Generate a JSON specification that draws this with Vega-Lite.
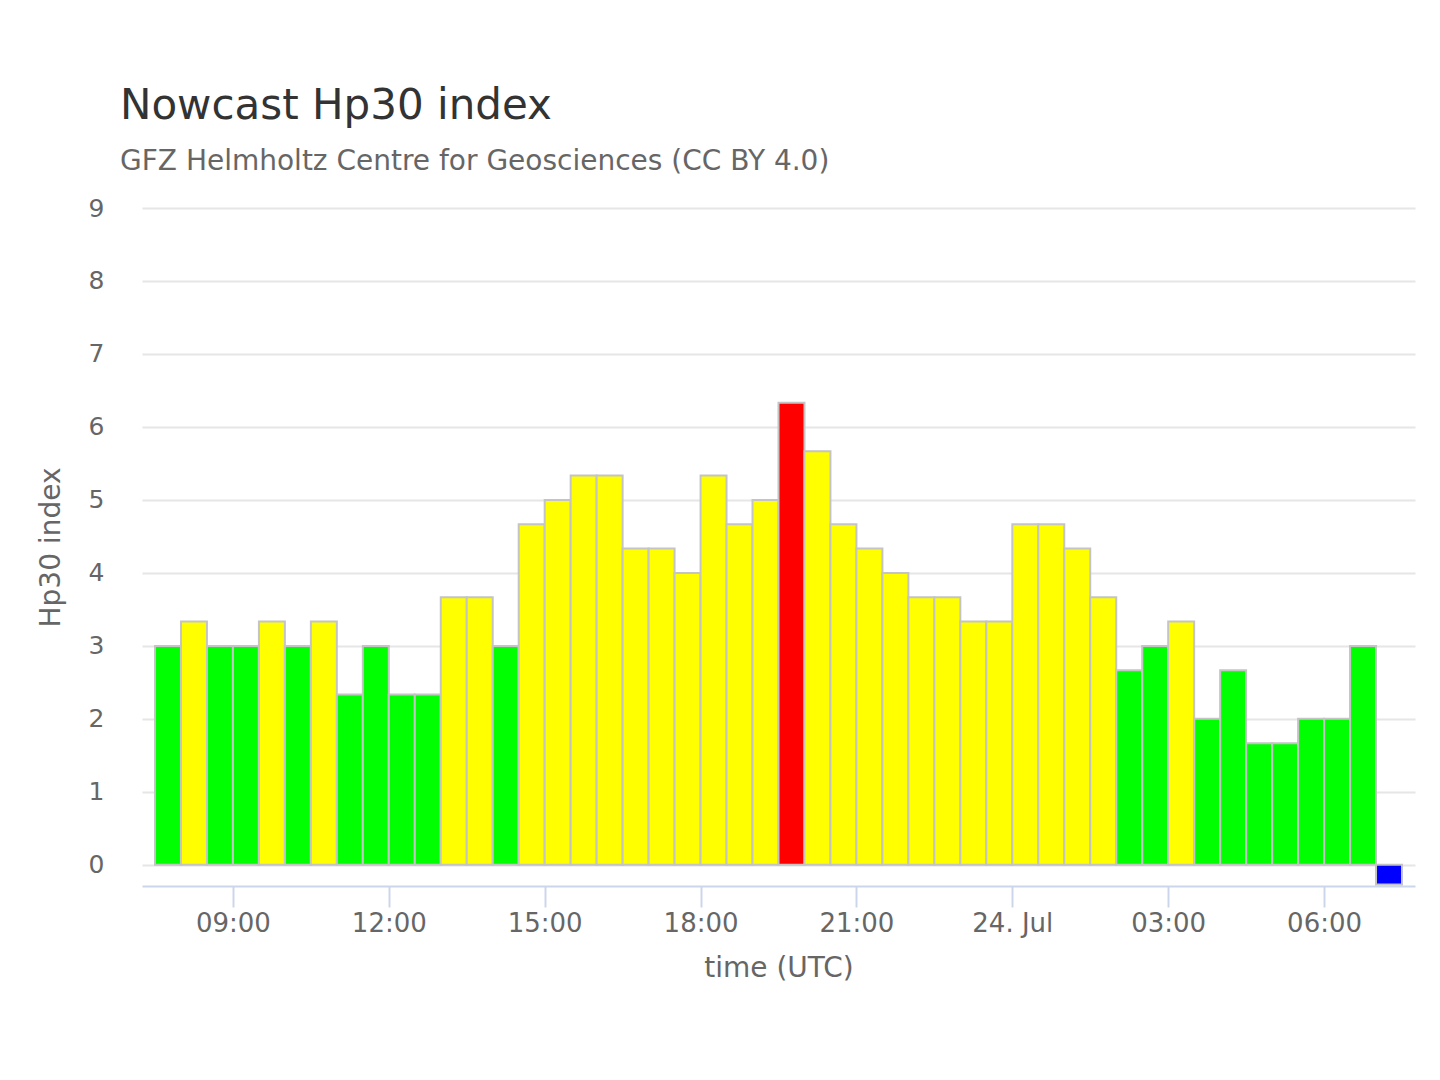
{
  "$schema": "https://vega.github.io/schema/vega-lite/v6.json",
  "autosize": "none",
  "width": 1273,
  "height": 678,
  "padding": {"left": 142, "top": 208, "right": 25, "bottom": 194},
  "background": "white",
  "title": {
    "text": "Nowcast Hp30 index",
    "subtitle": "GFZ Helmholtz Centre for Geosciences (CC BY 4.0)",
    "anchor": "start",
    "frame": "group",
    "dx": -22,
    "font": "DejaVu Sans",
    "fontSize": 42,
    "fontWeight": "normal",
    "color": "#333333",
    "subtitleFont": "DejaVu Sans",
    "subtitleFontSize": 28,
    "subtitleColor": "#666666",
    "subtitlePadding": 20,
    "offset": 19
  },
  "data": {
    "values": [
      {"start": "2023-07-23T07:30:00Z", "end": "2023-07-23T08:00:00Z", "hp": 3.0},
      {"start": "2023-07-23T08:00:00Z", "end": "2023-07-23T08:30:00Z", "hp": 3.333},
      {"start": "2023-07-23T08:30:00Z", "end": "2023-07-23T09:00:00Z", "hp": 3.0},
      {"start": "2023-07-23T09:00:00Z", "end": "2023-07-23T09:30:00Z", "hp": 3.0},
      {"start": "2023-07-23T09:30:00Z", "end": "2023-07-23T10:00:00Z", "hp": 3.333},
      {"start": "2023-07-23T10:00:00Z", "end": "2023-07-23T10:30:00Z", "hp": 3.0},
      {"start": "2023-07-23T10:30:00Z", "end": "2023-07-23T11:00:00Z", "hp": 3.333},
      {"start": "2023-07-23T11:00:00Z", "end": "2023-07-23T11:30:00Z", "hp": 2.333},
      {"start": "2023-07-23T11:30:00Z", "end": "2023-07-23T12:00:00Z", "hp": 3.0},
      {"start": "2023-07-23T12:00:00Z", "end": "2023-07-23T12:30:00Z", "hp": 2.333},
      {"start": "2023-07-23T12:30:00Z", "end": "2023-07-23T13:00:00Z", "hp": 2.333},
      {"start": "2023-07-23T13:00:00Z", "end": "2023-07-23T13:30:00Z", "hp": 3.667},
      {"start": "2023-07-23T13:30:00Z", "end": "2023-07-23T14:00:00Z", "hp": 3.667},
      {"start": "2023-07-23T14:00:00Z", "end": "2023-07-23T14:30:00Z", "hp": 3.0},
      {"start": "2023-07-23T14:30:00Z", "end": "2023-07-23T15:00:00Z", "hp": 4.667},
      {"start": "2023-07-23T15:00:00Z", "end": "2023-07-23T15:30:00Z", "hp": 5.0},
      {"start": "2023-07-23T15:30:00Z", "end": "2023-07-23T16:00:00Z", "hp": 5.333},
      {"start": "2023-07-23T16:00:00Z", "end": "2023-07-23T16:30:00Z", "hp": 5.333},
      {"start": "2023-07-23T16:30:00Z", "end": "2023-07-23T17:00:00Z", "hp": 4.333},
      {"start": "2023-07-23T17:00:00Z", "end": "2023-07-23T17:30:00Z", "hp": 4.333},
      {"start": "2023-07-23T17:30:00Z", "end": "2023-07-23T18:00:00Z", "hp": 4.0},
      {"start": "2023-07-23T18:00:00Z", "end": "2023-07-23T18:30:00Z", "hp": 5.333},
      {"start": "2023-07-23T18:30:00Z", "end": "2023-07-23T19:00:00Z", "hp": 4.667},
      {"start": "2023-07-23T19:00:00Z", "end": "2023-07-23T19:30:00Z", "hp": 5.0},
      {"start": "2023-07-23T19:30:00Z", "end": "2023-07-23T20:00:00Z", "hp": 6.333},
      {"start": "2023-07-23T20:00:00Z", "end": "2023-07-23T20:30:00Z", "hp": 5.667},
      {"start": "2023-07-23T20:30:00Z", "end": "2023-07-23T21:00:00Z", "hp": 4.667},
      {"start": "2023-07-23T21:00:00Z", "end": "2023-07-23T21:30:00Z", "hp": 4.333},
      {"start": "2023-07-23T21:30:00Z", "end": "2023-07-23T22:00:00Z", "hp": 4.0},
      {"start": "2023-07-23T22:00:00Z", "end": "2023-07-23T22:30:00Z", "hp": 3.667},
      {"start": "2023-07-23T22:30:00Z", "end": "2023-07-23T23:00:00Z", "hp": 3.667},
      {"start": "2023-07-23T23:00:00Z", "end": "2023-07-23T23:30:00Z", "hp": 3.333},
      {"start": "2023-07-23T23:30:00Z", "end": "2023-07-24T00:00:00Z", "hp": 3.333},
      {"start": "2023-07-24T00:00:00Z", "end": "2023-07-24T00:30:00Z", "hp": 4.667},
      {"start": "2023-07-24T00:30:00Z", "end": "2023-07-24T01:00:00Z", "hp": 4.667},
      {"start": "2023-07-24T01:00:00Z", "end": "2023-07-24T01:30:00Z", "hp": 4.333},
      {"start": "2023-07-24T01:30:00Z", "end": "2023-07-24T02:00:00Z", "hp": 3.667},
      {"start": "2023-07-24T02:00:00Z", "end": "2023-07-24T02:30:00Z", "hp": 2.667},
      {"start": "2023-07-24T02:30:00Z", "end": "2023-07-24T03:00:00Z", "hp": 3.0},
      {"start": "2023-07-24T03:00:00Z", "end": "2023-07-24T03:30:00Z", "hp": 3.333},
      {"start": "2023-07-24T03:30:00Z", "end": "2023-07-24T04:00:00Z", "hp": 2.0},
      {"start": "2023-07-24T04:00:00Z", "end": "2023-07-24T04:30:00Z", "hp": 2.667},
      {"start": "2023-07-24T04:30:00Z", "end": "2023-07-24T05:00:00Z", "hp": 1.667},
      {"start": "2023-07-24T05:00:00Z", "end": "2023-07-24T05:30:00Z", "hp": 1.667},
      {"start": "2023-07-24T05:30:00Z", "end": "2023-07-24T06:00:00Z", "hp": 2.0},
      {"start": "2023-07-24T06:00:00Z", "end": "2023-07-24T06:30:00Z", "hp": 2.0},
      {"start": "2023-07-24T06:30:00Z", "end": "2023-07-24T07:00:00Z", "hp": 3.0},
      {"start": "2023-07-24T07:00:00Z", "end": "2023-07-24T07:30:00Z", "hp": -0.27}
    ]
  },
  "mark": {"type": "bar", "stroke": "#c4c4c4", "strokeWidth": 2},
  "encoding": {
    "x": {
      "field": "start",
      "type": "temporal",
      "scale": {
        "type": "utc",
        "domain": [
          {"year": 2023, "month": 7, "date": 23, "hours": 7, "minutes": 15, "utc": true},
          {"year": 2023, "month": 7, "date": 24, "hours": 7, "minutes": 45, "utc": true}
        ],
        "nice": false,
        "padding": 0
      },
      "axis": {
        "title": "time (UTC)",
        "values": [
          {"year": 2023, "month": 7, "date": 23, "hours": 9, "utc": true},
          {"year": 2023, "month": 7, "date": 23, "hours": 12, "utc": true},
          {"year": 2023, "month": 7, "date": 23, "hours": 15, "utc": true},
          {"year": 2023, "month": 7, "date": 23, "hours": 18, "utc": true},
          {"year": 2023, "month": 7, "date": 23, "hours": 21, "utc": true},
          {"year": 2023, "month": 7, "date": 24, "hours": 0, "utc": true},
          {"year": 2023, "month": 7, "date": 24, "hours": 3, "utc": true},
          {"year": 2023, "month": 7, "date": 24, "hours": 6, "utc": true}
        ],
        "labelExpr": "utcFormat(datum.value, '%H') == '00' ? utcFormat(datum.value, '%d. %b') : utcFormat(datum.value, '%H:%M')",
        "grid": false,
        "domainColor": "#ccd6eb",
        "domainWidth": 2,
        "tickColor": "#ccd6eb",
        "tickWidth": 2,
        "tickSize": 21,
        "labelFont": "DejaVu Sans",
        "labelFontSize": 26,
        "labelColor": "#666666",
        "labelPadding": 3,
        "titleFont": "DejaVu Sans",
        "titleFontSize": 28,
        "titleFontWeight": "normal",
        "titleColor": "#666666",
        "titlePadding": 18
      }
    },
    "x2": {"field": "end"},
    "y": {
      "field": "hp",
      "type": "quantitative",
      "scale": {"domain": [-0.29, 9], "nice": false, "padding": 0},
      "axis": {
        "title": "Hp30 index",
        "values": [0, 1, 2, 3, 4, 5, 6, 7, 8, 9],
        "domain": false,
        "ticks": false,
        "gridColor": "#e6e6e6",
        "gridWidth": 2,
        "labelFont": "DejaVu Sans",
        "labelFontSize": 25,
        "labelColor": "#666666",
        "labelPadding": 38,
        "titleFont": "DejaVu Sans",
        "titleFontSize": 28,
        "titleFontWeight": "normal",
        "titleColor": "#666666",
        "titlePadding": 23
      }
    },
    "y2": {"datum": 0},
    "color": {
      "condition": [
        {"test": "datum.hp < 0", "value": "#0000ff"},
        {"test": "datum.hp >= 6", "value": "#ff0000"},
        {"test": "datum.hp <= 3", "value": "#00ff00"}
      ],
      "value": "#ffff00"
    }
  },
  "config": {"view": {"stroke": null}}
}
